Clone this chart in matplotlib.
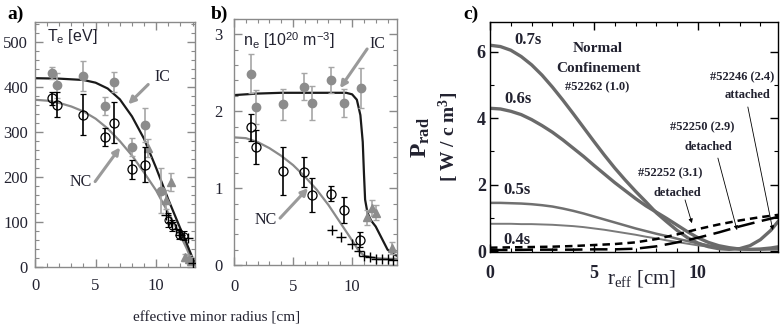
import matplotlib.pyplot as plt
from matplotlib.ticker import MultipleLocator

plt.rcParams['font.family'] = ['Liberation Serif', 'DejaVu Serif']
plt.rcParams['mathtext.fontset'] = 'custom'
plt.rcParams['mathtext.rm'] = 'Liberation Serif'
plt.rcParams['mathtext.sf'] = 'Liberation Sans'
plt.rcParams['mathtext.bf'] = 'Liberation Serif:bold'
plt.rcParams['mathtext.it'] = 'Liberation Serif:italic'

# ---------------- panel a: Te ----------------
r_te_ic = [1.4, 1.8, 4.0, 5.8, 6.5, 8.0, 9.1, 10.4]
te_ic = [431, 404, 425, 359, 411, 268, 315, 170]
te_ic_err = [13, 27, 33, 20, 22, 20, 38, 50]

r_te_nc = [1.4, 1.8, 4.0, 5.8, 6.5, 8.0, 9.1]
te_nc = [375, 361, 339, 290, 321, 217, 228]
te_nc_err = [15, 28, 45, 20, 45, 22, 38]

r_te_tri = [9.3, 10.8, 11.2, 12.4, 12.7, 12.9]
te_tri = [265, 150, 188, 22, 18, 14]
te_tri_err = [20, 22, 20, 8, 8, 8]

r_te_edge = [11.0, 11.3, 11.9, 12.3]
te_edge = [105, 92, 72, 70]
te_edge_err = [15, 12, 10, 10]

r_te_cross = [10.8, 11.2, 11.6, 12.0, 12.6, 13.0]
te_cross = [115, 100, 85, 72, 65, 8]

r_fit_a_ic = [0, 2, 4, 5, 6, 7, 8, 9, 10, 11, 12, 12.5, 13, 13.2]
te_fit_ic = [420, 419, 416, 410, 397, 373, 335, 285, 220, 150, 85, 53, 20, 8]
r_fit_a_nc = [0, 1, 2, 3, 4, 5, 6, 7, 8, 9, 10, 11, 12, 12.5, 13]
te_fit_nc = [372, 370, 365, 357, 346, 330, 308, 280, 248, 210, 170, 120, 70, 42, 10]

# ---------------- panel b: ne ----------------
r_ne_ic = [1.45, 1.9, 4.15, 5.9, 6.6, 8.2, 9.3, 10.75]
ne_ic = [2.49, 2.06, 2.09, 2.32, 2.11, 2.41, 2.11, 2.30]
ne_ic_err = [0.25, 0.22, 0.2, 0.18, 0.22, 0.17, 0.18, 0.26]

r_ne_nc = [1.45, 1.9, 4.15, 5.9, 6.6, 8.2, 9.3, 10.65]
ne_nc = [1.79, 1.53, 1.22, 1.21, 0.91, 0.93, 0.71, 0.33]
ne_nc_err = [0.18, 0.22, 0.31, 0.2, 0.22, 0.1, 0.17, 0.1]

r_ne_tri = [11.3, 11.7, 12.0, 13.4]
ne_tri = [0.62, 0.74, 0.68, 0.22]
ne_tri_err = [0.1, 0.1, 0.1, 0.08]

r_ne_cross = [8.3, 9.1, 10.0, 10.6, 11.0, 11.5, 12.0, 12.5, 13.0, 13.5]
ne_cross = [0.46, 0.36, 0.27, 0.18, 0.12, 0.10, 0.08, 0.08, 0.08, 0.07]

r_fit_b_ic = [0, 2, 4, 6, 8, 9.5, 10, 10.4, 10.7, 10.9, 11.0, 11.1, 11.3, 11.6, 12, 12.5, 13, 13.5, 13.8]
ne_fit_ic = [2.21, 2.23, 2.24, 2.24, 2.24, 2.24, 2.22, 2.15, 1.95, 1.6, 1.2, 0.85, 0.68, 0.58, 0.5, 0.35, 0.2, 0.14, 0.12]
r_fit_b_nc = [0, 1, 2, 3, 4, 5, 6, 7, 8, 9, 10, 10.5, 11, 12, 13, 13.8]
ne_fit_nc = [1.66, 1.65, 1.6, 1.52, 1.42, 1.3, 1.15, 0.98, 0.78, 0.55, 0.32, 0.2, 0.12, 0.09, 0.08, 0.08]

# ---------------- panel c: Prad ----------------
r_c = [0, 0.5, 1, 1.5, 2, 2.5, 3, 3.5, 4, 4.5, 5, 5.5, 6, 6.5, 7, 7.5, 8, 8.5, 9,
       9.5, 10, 10.5, 11, 11.5, 12, 12.5, 13, 13.5, 14]
prad_07 = [6.20, 6.16, 6.05, 5.86, 5.61, 5.30, 4.94, 4.55, 4.14, 3.72, 3.30, 2.89, 2.50,
           2.14, 1.80, 1.48, 1.15, 0.88, 0.62, 0.40, 0.24, 0.13, 0.07, 0.05, 0.07, 0.16,
           0.34, 0.62, 1.00]
prad_06 = [4.30, 4.28, 4.21, 4.11, 3.96, 3.78, 3.58, 3.35, 3.10, 2.85, 2.58, 2.32, 2.06,
           1.82, 1.58, 1.36, 1.17, 0.98, 0.78, 0.58, 0.40, 0.26, 0.16, 0.10, 0.06, 0.05,
           0.06, 0.09, 0.14]
prad_05 = [1.45, 1.45, 1.44, 1.43, 1.41, 1.38, 1.34, 1.28, 1.21, 1.13, 1.04, 0.95, 0.86,
           0.77, 0.68, 0.60, 0.52, 0.45, 0.37, 0.30, 0.23, 0.17, 0.12, 0.08, 0.06, 0.05,
           0.05, 0.06, 0.07]
prad_04 = [0.82, 0.82, 0.82, 0.81, 0.81, 0.80, 0.79, 0.77, 0.75, 0.72, 0.68, 0.64, 0.59,
           0.54, 0.49, 0.43, 0.38, 0.32, 0.27, 0.22, 0.17, 0.13, 0.10, 0.07, 0.05, 0.04,
           0.04, 0.04, 0.04]
r_dash = [0, 1, 2, 3, 4, 5, 6, 7, 8, 9, 10, 11, 12, 13, 14]
prad_52252 = [0.10, 0.11, 0.12, 0.13, 0.15, 0.18, 0.21, 0.26, 0.36, 0.50, 0.66, 0.80, 0.92, 1.02, 1.10]
prad_52250 = [0.03, 0.03, 0.04, 0.04, 0.04, 0.05, 0.05, 0.07, 0.14, 0.26, 0.40, 0.56, 0.74, 0.90, 1.05]

GRAY_PT = '#8c8c8c'
GRAY_ERR = '#a6a6a6'
GRAY_LINE = '#8a8a8a'
TXT = '#222230'


def style_axes(ax, color, lab_size, bold=False, xpad=4, ypad=4):
    ax.tick_params(which='both', direction='in', top=True, right=True, color=color,
                   labelcolor=TXT, labelsize=lab_size)
    ax.tick_params(which='major', length=6, width=1)
    ax.tick_params(which='minor', length=3, width=0.8)
    ax.tick_params(axis='x', pad=xpad)
    ax.tick_params(axis='y', pad=ypad)
    for s in ax.spines.values():
        s.set_color(color)
        s.set_linewidth(1.0)
    if bold:
        for t in ax.get_xticklabels() + ax.get_yticklabels():
            t.set_fontweight('bold')


W, H = 781, 327
fig = plt.figure(figsize=(W / 100, H / 100), dpi=100)


def px_axes(x0, y0, x1, y1):
    return fig.add_axes([x0 / W, 1 - y1 / H, (x1 - x0) / W, (y1 - y0) / H])


# ---- a) ----
ax_a = px_axes(35, 22, 195, 267)
ax_a.plot(r_fit_a_nc, te_fit_nc, color=GRAY_LINE, lw=1.6, zorder=2)
ax_a.plot(r_fit_a_ic, te_fit_ic, color='#1a1a1a', lw=1.6, zorder=2)
ax_a.errorbar(r_te_ic, te_ic, yerr=te_ic_err, fmt='o', ms=6, color=GRAY_PT, ecolor=GRAY_ERR,
              elinewidth=1.2, capsize=2.5, zorder=3)
ax_a.errorbar(r_te_tri, te_tri, yerr=te_tri_err, fmt='^', ms=6, color=GRAY_PT, ecolor=GRAY_ERR,
              elinewidth=1.2, capsize=2.5, zorder=3)
ax_a.errorbar(r_te_nc, te_nc, yerr=te_nc_err, fmt='o', ms=6.5, mfc='none', mec='black', mew=0.9,
              ecolor='black', elinewidth=1.2, capsize=2.5, zorder=4)
ax_a.errorbar(r_te_edge, te_edge, yerr=te_edge_err, fmt='o', ms=5, mfc='none', mec='black', mew=0.8,
              ecolor='black', elinewidth=1.0, capsize=2.5, zorder=4)
ax_a.plot(r_te_cross, te_cross, '+', color='black', ms=7, mew=1, zorder=4)
ax_a.set_xlim(0, 13.2)
ax_a.set_ylim(0, 545)
ax_a.xaxis.set_major_locator(MultipleLocator(5))
ax_a.xaxis.set_minor_locator(MultipleLocator(1))
ax_a.yaxis.set_major_locator(MultipleLocator(100))
ax_a.yaxis.set_minor_locator(MultipleLocator(20))
style_axes(ax_a, '#8a8a8a', 12, xpad=8, ypad=5)
ax_a.text(1.0, 513, r'T$_{\mathsf{e}}$ [eV]', family='Liberation Sans', fontsize=11.5,
          color=TXT, ha='left', va='center')
ax_a.text(10.5, 422, 'IC', fontsize=11.5, color=TXT, ha='center', va='center')
ax_a.text(3.8, 190, 'NC', fontsize=11.5, color=TXT, ha='center', va='center')
arrow_kw = dict(arrowstyle='-|>', color='#9a9a9a', lw=2.2, mutation_scale=10, shrinkA=0, shrinkB=0)
ax_a.annotate('', xy=(7.69, 362), xytext=(9.34, 406), arrowprops=arrow_kw)
ax_a.annotate('', xy=(7.02, 266), xytext=(4.96, 190), arrowprops=arrow_kw)

# ---- b) ----
ax_b = px_axes(234, 19, 397, 265)
ax_b.plot(r_fit_b_nc, ne_fit_nc, color=GRAY_LINE, lw=1.6, zorder=2)
ax_b.plot(r_fit_b_ic, ne_fit_ic, color='#1a1a1a', lw=1.6, zorder=2)
ax_b.errorbar(r_ne_ic, ne_ic, yerr=ne_ic_err, fmt='o', ms=6, color=GRAY_PT, ecolor=GRAY_ERR,
              elinewidth=1.2, capsize=2.5, zorder=3)
ax_b.errorbar(r_ne_tri, ne_tri, yerr=ne_tri_err, fmt='^', ms=6, color=GRAY_PT, ecolor=GRAY_ERR,
              elinewidth=1.2, capsize=2.5, zorder=3)
ax_b.errorbar(r_ne_nc, ne_nc, yerr=ne_nc_err, fmt='o', ms=6.5, mfc='none', mec='black', mew=0.9,
              ecolor='black', elinewidth=1.2, capsize=2.5, zorder=4)
ax_b.plot(r_ne_cross, ne_cross, '+', color='black', ms=7, mew=1, zorder=4)
ax_b.set_xlim(0, 13.8)
ax_b.set_ylim(0, 3.2)
ax_b.xaxis.set_major_locator(MultipleLocator(5))
ax_b.xaxis.set_minor_locator(MultipleLocator(1))
ax_b.yaxis.set_major_locator(MultipleLocator(1))
ax_b.yaxis.set_minor_locator(MultipleLocator(0.2))
style_axes(ax_b, '#8a8a8a', 12, xpad=10, ypad=8)
ax_b.text(0.76, 2.92, r'n$_{\mathsf{e}}$ [10$^{\mathsf{20}}$ m$^{\mathsf{-3}}$]',
          family='Liberation Sans', fontsize=11.5, color=TXT, ha='left', va='center')
ax_b.text(12.1, 2.88, 'IC', fontsize=11.5, color=TXT, ha='center', va='center')
ax_b.text(2.71, 0.58, 'NC', fontsize=11.5, color=TXT, ha='center', va='center')
ax_b.annotate('', xy=(8.98, 2.30), xytext=(11.27, 2.81), arrowprops=arrow_kw)
ax_b.annotate('', xy=(6.27, 1.0), xytext=(3.9, 0.61), arrowprops=arrow_kw)

fig.text(217 / W, 1 - 318 / H, 'effective minor radius [cm]', fontsize=11, color=TXT,
         ha='center', va='center')

# ---- c) ----
ax_c = px_axes(490, 22, 778, 252)
ax_c.plot(r_c, prad_04, color='#7a7a7a', lw=1.4)
ax_c.plot(r_c, prad_05, color='#707070', lw=1.8)
ax_c.plot(r_c, prad_06, color='#6a6a6a', lw=2.4)
ax_c.plot(r_c, prad_07, color='#6a6a6a', lw=2.4)
ax_c.plot(r_dash, prad_52252, color='black', lw=1.8, ls=(0, (3, 2)))
ax_c.plot(r_dash, prad_52250, color='black', lw=1.8, ls=(0, (7, 3)))
ax_c.set_xlim(0, 13.85)
ax_c.set_ylim(-0.03, 6.9)
ax_c.xaxis.set_major_locator(MultipleLocator(5))
ax_c.xaxis.set_minor_locator(MultipleLocator(1))
ax_c.yaxis.set_major_locator(MultipleLocator(2))
ax_c.yaxis.set_minor_locator(MultipleLocator(1))
style_axes(ax_c, 'black', 13, bold=True, xpad=9, ypad=3)

bkw = dict(fontweight='bold', color=TXT, ha='center', va='center', clip_on=False)
ax_c.text(1.83, 6.36, '0.7s', fontsize=12, **bkw)
ax_c.text(1.35, 4.58, '0.6s', fontsize=12, **bkw)
ax_c.text(1.3, 1.84, '0.5s', fontsize=12, **bkw)
ax_c.text(1.3, 0.33, '0.4s', fontsize=12, **bkw)
ax_c.text(5.19, 6.11, 'Normal', fontsize=11, **bkw)
ax_c.text(5.24, 5.51, 'Confinement', fontsize=11, **bkw)
ax_c.text(5.14, 4.94, '#52262 (1.0)', fontsize=9, **bkw)
ax_c.text(12.12, 5.24, '#52246 (2.4)', fontsize=9, **bkw)
ax_c.text(12.4, 4.70, 'attached', fontsize=9, **bkw)
ax_c.text(10.19, 3.73, '#52250 (2.9)', fontsize=9, **bkw)
ax_c.text(10.48, 3.13, 'detached', fontsize=9, **bkw)
ax_c.text(8.65, 2.35, '#52252 (3.1)', fontsize=9, **bkw)
ax_c.text(8.99, 1.75, 'detached', fontsize=9, **bkw)
thin_kw = dict(arrowstyle='-|>', color='black', lw=0.6, mutation_scale=6, shrinkA=0, shrinkB=0)
ax_c.annotate('', xy=(9.71, 0.84), xytext=(9.38, 1.54), arrowprops=thin_kw)
ax_c.annotate('', xy=(11.88, 0.63), xytext=(10.96, 2.80), arrowprops=thin_kw)
ax_c.annotate('', xy=(13.6, 0.63), xytext=(12.4, 4.34), arrowprops=thin_kw)

fig.text(421 / W, 1 - 137 / H, r'P$_{\mathbf{rad}}$', fontsize=17, fontweight='bold',
         rotation=90, ha='center', va='center', color=TXT)
fig.text(449 / W, 1 - 137 / H, r'[ W / c m$^{\mathbf{3}}$]', fontsize=14, fontweight='bold',
         rotation=90, ha='center', va='center', color=TXT)
fig.text(607 / W, 1 - 268 / H, r'r$_{\mathrm{eff}}$ [cm]', fontsize=15, ha='left', va='top',
         color=TXT)

# panel letters
fig.text(16 / W, 1 - 14 / H, 'a)', fontsize=14, fontweight='bold', ha='center', va='center')
fig.text(219 / W, 1 - 14 / H, 'b)', fontsize=14, fontweight='bold', ha='center', va='center')
fig.text(471 / W, 1 - 14 / H, 'c)', fontsize=14, fontweight='bold', ha='center', va='center')

fig.savefig('out.png', dpi=100)
plt.close(fig)
